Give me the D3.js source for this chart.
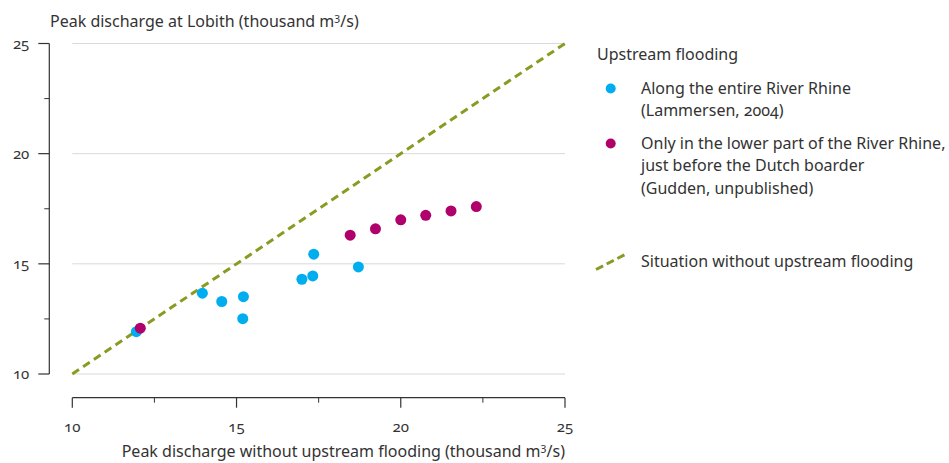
<!DOCTYPE html>
<html>
<head>
<meta charset="utf-8">
<script src="https://cdn.jsdelivr.net/npm/d3@7"></script>
<style>
  body { margin: 0; background: #fff; }
  svg { display: block; }
  text { font-family: "Noto Sans", "Open Sans", sans-serif; fill: #333; font-variant-numeric: oldstyle-nums; }
</style>
</head>
<body>
<svg id="chart" width="949" height="463"></svg>
<script>
// ---- data ----
const entireRhine = [
  [11.95, 11.92], [13.96, 13.67], [14.55, 13.29], [15.21, 13.51], [15.19, 12.51],
  [16.99, 14.30], [17.32, 14.45], [17.35, 15.44], [18.71, 14.86]
];
const lowerRhine = [
  [12.07, 12.08], [18.46, 16.30], [19.23, 16.59], [20.00, 17.00],
  [20.76, 17.20], [21.53, 17.40], [22.30, 17.60]
];
const noFloodLine = [[10, 10], [25, 25]];
const xTicks = [10, 15, 20, 25];
const xMinorTicks = [12.5, 17.5, 22.5];
const yTicks = [10, 15, 20, 25];
const yMinorTicks = [12.5, 17.5, 22.5];
const legendSeries = [
  { label: ["Along the entire River Rhine", "(Lammersen, 2004)"], color: "#00aeef" },
  { label: ["Only in the lower part of the River Rhine,", "just before the Dutch boarder", "(Gudden, unpublished)"], color: "#b0006b" }
];
const legendTitle = "Upstream flooding";
const legendLineLabel = "Situation without upstream flooding";

const blue = "#00aeef", magenta = "#b0006b", olive = "#8a9a22";

const svg = d3.select("#chart");
const x = d3.scaleLinear().domain([10, 25]).range([72.3, 565]);
const y = d3.scaleLinear().domain([10, 25]).range([374, 43.5]);

// gridlines
svg.append("g").selectAll("line").data(yTicks).join("line")
  .attr("x1", x(10)).attr("x2", x(25))
  .attr("y1", d => y(d)).attr("y2", d => y(d))
  .attr("stroke", "#d9d9d9").attr("stroke-width", 1);

// y axis
const yAxisX = 49.3;
const gy = svg.append("g").attr("transform", `translate(${yAxisX},0)`);
gy.append("line").attr("x1", 0).attr("x2", 0).attr("y1", y(25)).attr("y2", y(10)).attr("stroke", "#333").attr("stroke-width", 1.2);
gy.selectAll(".maj").data(yTicks).join("line").attr("class", "maj")
  .attr("x1", -11).attr("x2", 0).attr("y1", d => y(d)).attr("y2", d => y(d))
  .attr("stroke", "#333").attr("stroke-width", 1.2);
gy.selectAll(".min").data(yMinorTicks).join("line").attr("class", "min")
  .attr("x1", -5).attr("x2", 0).attr("y1", d => y(d)).attr("y2", d => y(d))
  .attr("stroke", "#333").attr("stroke-width", 1);
gy.selectAll("text").data(yTicks).join("text")
  .attr("x", -20).attr("y", d => y(d)).attr("dy", "0.35em")
  .attr("text-anchor", "end").attr("font-size", 15).text(d => d);

// x axis
const xAxisY = 397.7;
const gx = svg.append("g").attr("transform", `translate(0,${xAxisY})`);
gx.append("line").attr("x1", x(10)).attr("x2", x(25)).attr("y1", 0).attr("y2", 0).attr("stroke", "#333").attr("stroke-width", 1.2);
gx.selectAll(".maj").data(xTicks).join("line").attr("class", "maj")
  .attr("x1", d => x(d)).attr("x2", d => x(d)).attr("y1", 0).attr("y2", 10)
  .attr("stroke", "#333").attr("stroke-width", 1.2);
gx.selectAll(".min").data(xMinorTicks).join("line").attr("class", "min")
  .attr("x1", d => x(d)).attr("x2", d => x(d)).attr("y1", 0).attr("y2", 5)
  .attr("stroke", "#333").attr("stroke-width", 1);
gx.selectAll("text").data(xTicks).join("text")
  .attr("x", d => x(d)).attr("y", 34)
  .attr("text-anchor", "middle").attr("font-size", 15).text(d => d);

// axis titles
const yt = svg.append("text").attr("x", 50).attr("y", 27).attr("font-size", 16);
yt.append("tspan").text("Peak discharge at Lobith (thousand m");
yt.append("tspan").attr("dy", -6).attr("font-size", 11).text("3");
yt.append("tspan").attr("dy", 6).text("/s)");

const xt = svg.append("text").attr("x", 565).attr("y", 457).attr("font-size", 16).attr("text-anchor", "end");
xt.append("tspan").text("Peak discharge without upstream flooding (thousand m");
xt.append("tspan").attr("dy", -6).attr("font-size", 11).text("3");
xt.append("tspan").attr("dy", 6).text("/s)");

// reference line
const line = d3.line().x(d => x(d[0])).y(d => y(d[1]));
svg.append("path").datum(noFloodLine).attr("d", line)
  .attr("fill", "none").attr("stroke", olive).attr("stroke-width", 3)
  .attr("stroke-dasharray", "8,5");

// points
svg.append("g").selectAll("circle").data(entireRhine).join("circle")
  .attr("cx", d => x(d[0])).attr("cy", d => y(d[1])).attr("r", 5.5).attr("fill", blue);
svg.append("g").selectAll("circle").data(lowerRhine).join("circle")
  .attr("cx", d => x(d[0])).attr("cy", d => y(d[1])).attr("r", 5.5).attr("fill", magenta);

// legend
const lg = svg.append("g");
lg.append("text").attr("x", 597).attr("y", 60).attr("font-size", 16).text(legendTitle);
const entryY = [88.5, 143.5];
legendSeries.forEach((s, i) => {
  lg.append("circle").attr("cx", 610.7).attr("cy", entryY[i]).attr("r", 5).attr("fill", s.color);
  const t = lg.append("text").attr("x", 641).attr("y", entryY[i] + 5).attr("font-size", 16);
  s.label.forEach((l, j) => t.append("tspan").attr("x", 641).attr("dy", j === 0 ? 0 : 22.5).text(l));
});
lg.append("line").attr("x1", 596).attr("y1", 269.5).attr("x2", 625).attr("y2", 254.5)
  .attr("stroke", olive).attr("stroke-width", 3).attr("stroke-dasharray", "8,4");
lg.append("text").attr("x", 641).attr("y", 267).attr("font-size", 16).text(legendLineLabel);
</script>
</body>
</html>
